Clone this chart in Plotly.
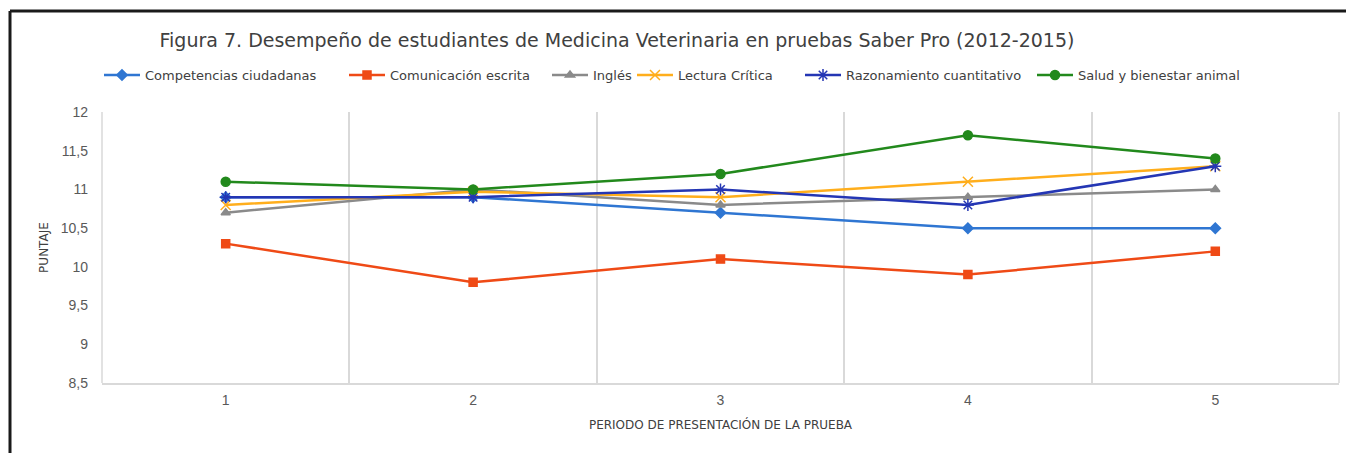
import plotly.graph_objects as go

periodos = ["1", "2", "3", "4", "5"]
competencias = [10.9, 10.9, 10.7, 10.5, 10.5]
comunicacion = [10.3, 9.8, 10.1, 9.9, 10.2]
ingles = [10.7, 11.0, 10.8, 10.9, 11.0]
lectura = [10.8, 10.97, 10.9, 11.1, 11.3]
razonamiento = [10.9, 10.9, 11.0, 10.8, 11.3]
salud = [11.1, 11.0, 11.2, 11.7, 11.4]

series = [
    ("Competencias ciudadanas", competencias, "#2f76d2", "diamond", 8),
    ("Comunicación escrita", comunicacion, "#ef4a16", "square", 8),
    ("Inglés", ingles, "#8a8a8a", "triangle-up", 8),
    ("Lectura Crítica", lectura, "#ffae1c", "x-thin-open", 10),
    ("Razonamiento cuantitativo", razonamiento, "#2436b4", "asterisk-open", 10),
    ("Salud y bienestar animal", salud, "#22891c", "circle", 9),
]
# screen x where each legend entry starts
legend_x = [105, 350, 553, 638, 806, 1038]

# the page body has an 8px margin; work in screen pixels and shift
OFF = 8
SW, SH = 1354, 453
W, H = SW - OFF, SH - OFF
PL, PR, PT, PB = 102, 1339, 112, 383   # plot area in screen pixels
L, R, T, B = PL - OFF, SW - PR, PT - OFF, SH - PB
pw, ph = PR - PL, PB - PT

def px(xs):
    return (xs - PL) / pw

def py(ys):
    return (PB - ys) / ph

fig = go.Figure()
legend_layout = {}
for i, (name, vals, color, sym, size) in enumerate(series):
    lg = "legend" if i == 0 else f"legend{i + 1}"
    fig.add_trace(go.Scatter(
        x=periodos, y=vals, name=name, mode="lines+markers",
        line=dict(color=color, width=2.5),
        marker=dict(symbol=sym, size=size, color=color,
                    line=dict(color=color, width=1.5)),
        legend=lg,
    ))
    legend_layout[lg] = dict(
        orientation="h", xref="paper", x=px(legend_x[i] - 6), xanchor="left",
        y=py(75), yanchor="middle", bgcolor="rgba(0,0,0,0)",
        font=dict(family="DejaVu Sans", size=13, color="#404040"),
        itemwidth=36,
    )

fig.update_layout(
    width=W, height=H,
    margin=dict(l=L, r=R, t=T, b=B),
    paper_bgcolor="white", plot_bgcolor="white",
    separators=", ",
    font=dict(family="Liberation Sans, Arial, sans-serif", color="#595959"),
    title=dict(
        text="Figura 7. Desempeño de estudiantes de Medicina Veterinaria en pruebas Saber Pro (2012-2015)",
        font=dict(family="DejaVu Sans", size=19, color="#404040"),
        xref="paper", x=px(617), xanchor="center",
        yref="container", y=1 - (40 - OFF) / H, yanchor="middle",
    ),
    xaxis=dict(
        type="category", tickson="boundaries", showgrid=True,
        gridcolor="#d9d9d9", gridwidth=1.5,
        showline=True, linecolor="#d9d9d9", linewidth=1.5,
        ticks="", tickfont=dict(size=14, color="#595959"),
        ticklabelstandoff=3,
        range=[-0.5, 4.5],
        title=dict(text="PERIODO DE PRESENTACIÓN DE LA PRUEBA",
                   font=dict(family="DejaVu Sans", size=12, color="#404040"),
                   standoff=14),
    ),
    yaxis=dict(
        range=[8.5, 12], dtick=0.5, showgrid=False, zeroline=False,
        showline=False, ticks="", tickfont=dict(size=14, color="#595959"),
        tickformat=".1~f", ticklabelstandoff=13,
        title=dict(text="PUNTAJE",
                   font=dict(family="DejaVu Sans", size=12, color="#404040"),
                   standoff=9),
    ),
    showlegend=True,
    **legend_layout,
)

# vertical lines at the plot area edges (category boundaries)
for xd in (0, 1):
    fig.add_shape(type="line", xref="x domain", yref="y domain",
                  x0=xd, x1=xd, y0=0, y1=1, layer="below",
                  line=dict(color="#d9d9d9", width=1.5))

# frame (left and top borders of the original figure box)
fig.add_shape(type="line", xref="paper", yref="paper",
              x0=px(10), x1=px(10), y0=py(SH + 5), y1=py(11),
              line=dict(color="#1a1a1a", width=3))
fig.add_shape(type="line", xref="paper", yref="paper",
              x0=px(10), x1=px(SW + 5), y0=py(11), y1=py(11),
              line=dict(color="#1a1a1a", width=3))

fig.write_html("out.html")
